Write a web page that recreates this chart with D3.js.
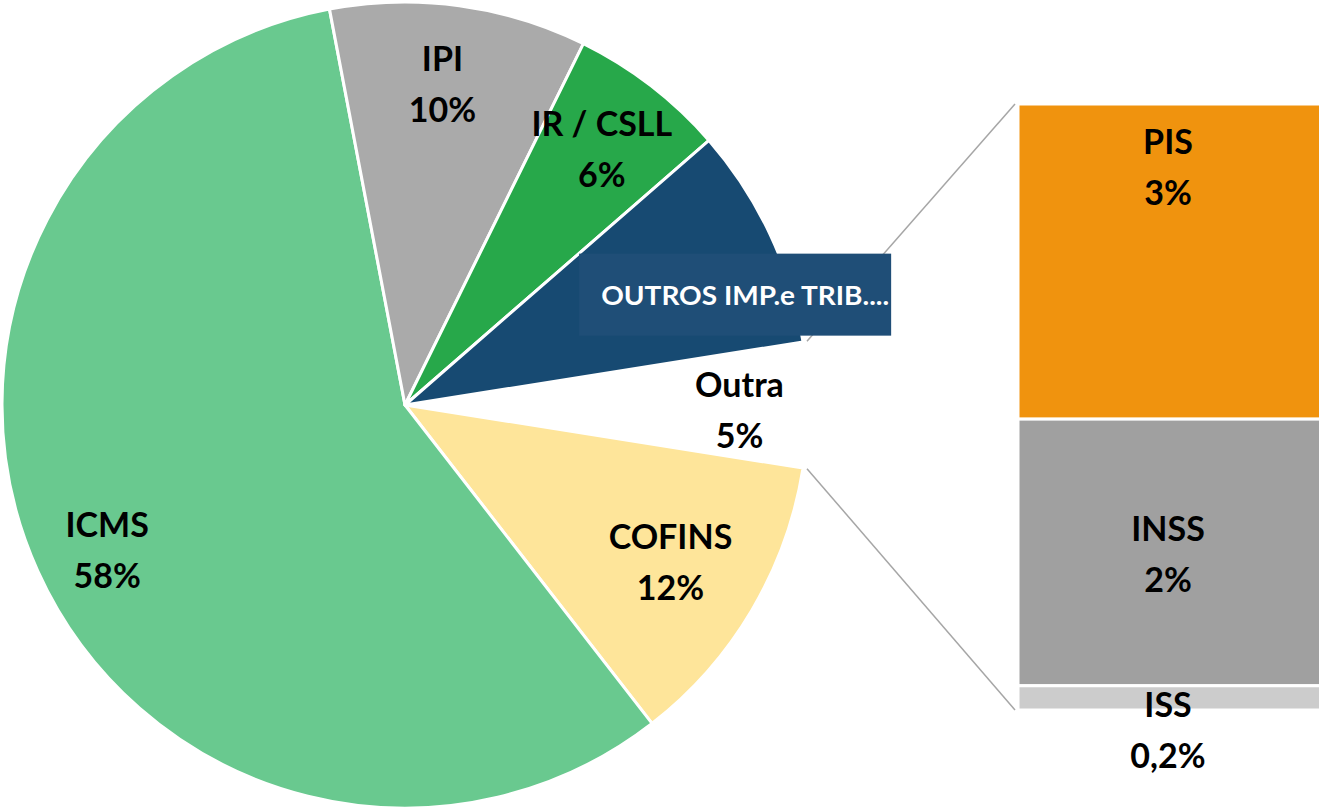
<!DOCTYPE html>
<html lang="pt-BR">
<head>
<meta charset="UTF-8">
<title>Composição dos tributos</title>
<script src="https://d3js.org/d3.v7.min.js"></script>
<style>
  html, body { margin: 0; padding: 0; background: #fff; }
  svg { display: block; }
  .lbl { font-family: Lato, Carlito, Calibri, sans-serif; font-weight: bold; font-size: 34px; fill: #000; text-anchor: middle; }
  .box-lbl { font-family: Lato, Carlito, Calibri, sans-serif; font-weight: bold; font-size: 27.5px; fill: #fff; }
</style>
</head>
<body>
<svg width="1319" height="808"></svg>
<script>
// fatias da pizza, sentido horário a partir da "Outra"
const pieNames = ["Outra", "COFINS", "ICMS", "IPI", "IR / CSLL", "OUTROS IMP.e TRIB...."];
const pieValues = [5.0, 12.0, 57.5, 10.3, 6.3, 8.9];
const pieColors = [null, "#fee59a", "#69c98f", "#aaaaaa", "#27a84a", "#174a72"];

// detalhamento da fatia "Outra"
const barNames = ["PIS", "INSS", "ISS"];
const barValues = [2.6, 2.2, 0.2];
const barColors = ["#f0930e", "#a0a0a0", "#cccccc"];

const svg = d3.select("svg");
const cx = 405, cy = 405, R = 403;
const capH = 24, lineGap = 51;

const fmt = v => v < 1 ? d3.format(".1f")(v).replace(".", ",") + "%" : Math.round(v) + "%";

// rótulo de duas linhas centrado em (x, y)
function twoLines(x, y, a, b) {
  const t = svg.append("text").attr("class", "lbl");
  const y1 = y + (capH - lineGap) / 2;
  t.append("tspan").attr("x", x).attr("y", y1).text(a);
  t.append("tspan").attr("x", x).attr("y", y1 + lineGap).text(b);
}

// pizza: "Outra" centrada às 3 horas
const outraAng = pieValues[0] / d3.sum(pieValues) * 2 * Math.PI;
const a0 = Math.PI / 2 - outraAng / 2;
const arcs = d3.pie().sort(null).startAngle(a0).endAngle(a0 + 2 * Math.PI)(pieValues);
const arc = d3.arc().innerRadius(0).outerRadius(R);

const g = svg.append("g").attr("transform", `translate(${cx},${cy})`);
g.selectAll("path")
  .data(arcs.filter(d => d.index > 0))
  .join("path")
  .attr("d", arc)
  .attr("fill", d => pieColors[d.index])
  .attr("stroke", "#fff")
  .attr("stroke-width", 3)
  .attr("stroke-linejoin", "round");

// barra da "Outra"
const barX = 1018, barW = 310;
const y = d3.scaleLinear().domain([0, d3.sum(barValues)]).range([104, 710]);
const stack = d3.cumsum(barValues);
const segs = barValues.map((v, i) => ({ name: barNames[i], v, y0: y(stack[i] - v), y1: y(stack[i]), c: barColors[i] }));

svg.selectAll("rect.seg")
  .data(segs)
  .join("rect")
  .attr("class", "seg")
  .attr("x", barX).attr("y", d => d.y0)
  .attr("width", barW).attr("height", d => d.y1 - d.y0)
  .attr("fill", d => d.c)
  .attr("stroke", "#fff")
  .attr("stroke-width", 3);

// linhas de ligação pizza -> barra
const p = ang => [cx + (R + 4) * Math.sin(ang), cy - (R + 4) * Math.cos(ang)];
const [sx0, sy0] = p(arcs[0].startAngle);
const [sx1, sy1] = p(arcs[0].endAngle);
svg.append("line").attr("x1", sx0).attr("y1", sy0).attr("x2", barX - 3).attr("y2", y(0))
  .attr("stroke", "#a6a6a6").attr("stroke-width", 1.5);
svg.append("line").attr("x1", sx1).attr("y1", sy1).attr("x2", barX - 3).attr("y2", y(d3.sum(barValues)))
  .attr("stroke", "#a6a6a6").attr("stroke-width", 1.5);

// ajustes finos dos rótulos (como foram arrastados no original)
const nudge = { "COFINS": [-12, -7], "ICMS": [-4, 13], "IPI": [-6, -1], "Outra": [0, 5] };
const labelR = { "Outra": 0.83 };

arcs.forEach((d, i) => {
  const name = pieNames[i];
  if (i === pieNames.length - 1) return;
  const r = (labelR[name] || 0.8) * R;
  const [lx, ly] = d3.arc().innerRadius(r).outerRadius(r).centroid(d);
  const [nx, ny] = nudge[name] || [0, 0];
  twoLines(cx + lx + nx, cy + ly + ny, name, fmt(d.value));
});

// rótulo em caixa da fatia "OUTROS"
{
  const d = arcs[arcs.length - 1];
  const r = 0.8 * R;
  const [lx, ly] = d3.arc().innerRadius(r).outerRadius(r).centroid(d);
  const bx = cx + lx + 38, by = cy + ly + 26;
  const bw = 312, bh = 82;
  svg.append("rect")
    .attr("x", bx - bw / 2).attr("y", by - bh / 2)
    .attr("width", bw).attr("height", bh)
    .attr("fill", "#1f4e77");
  svg.append("text").attr("class", "box-lbl")
    .attr("x", bx - bw / 2 + 22).attr("y", by + 10)
    .attr("textLength", 288).attr("lengthAdjust", "spacingAndGlyphs")
    .text(pieNames[pieNames.length - 1]);
}

// rótulos da barra
const barNudge = { "PIS": -94, "INSS": 2, "ISS": 33 };
segs.forEach(d => {
  twoLines(barX + 150, (d.y0 + d.y1) / 2 + (barNudge[d.name] || 0), d.name, fmt(d.v));
});
</script>
</body>
</html>
